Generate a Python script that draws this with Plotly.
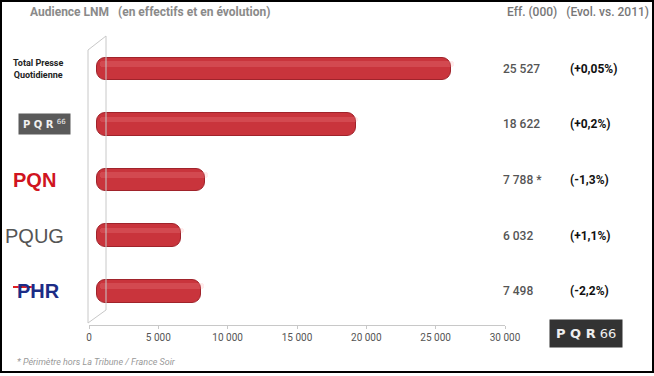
import plotly.graph_objects as go

categories = ["Total Presse Quotidienne", "PQR 66", "PQN", "PQUG", "PHR"]
effectifs = [25527, 18622, 7788, 6032, 7498]
value_labels = ["25 527", "18 622", "7 788 *", "6 032", "7 498"]
evol_labels = ["(+0,05%)", "(+0,2%)", "(-1,3%)", "(+1,1%)", "(-2,2%)"]
tick_vals = [0, 5000, 10000, 15000, 20000, 25000, 30000]
tick_text = ["0", "5 000", "10 000", "15 000", "20 000", "25 000", "30 000"]

NARROW = "Roboto, Liberation Sans, sans-serif"

# plot area in pixels
L, R, T, B = 89, 505, 45, 325
W, H = R - L, B - T
def px(x): return (x - L) / W
def py(y): return (B - y) / H

fig = go.Figure()
base_off = 600
fig.add_trace(go.Bar(
    y=categories, x=effectifs, base=base_off, orientation="h", width=0.41,
    marker=dict(color="#c9343c", line=dict(color="#a0232b", width=1), cornerradius=9),
    hoverinfo="skip", showlegend=False))
fig.add_trace(go.Bar(
    y=categories, x=effectifs, base=base_off + 200, orientation="h", width=0.1, offset=-0.14,
    marker=dict(color="rgba(255,160,160,0.2)", line=dict(width=0), cornerradius=3),
    hoverinfo="skip", showlegend=False))

annotations = []
for c, v, e in zip(categories, value_labels, evol_labels):
    annotations.append(dict(x=px(501), y=c, xref="paper", yref="y", text=v, showarrow=False,
                            xanchor="left", yanchor="middle", font=dict(family=NARROW, size=12, weight=500, color="#555555")))
    annotations.append(dict(x=px(568), y=c, xref="paper", yref="y", text="<b>" + e + "</b>", showarrow=False,
                            xanchor="left", yanchor="middle", font=dict(family=NARROW, size=12, color="#111111")))

# category logos (as text)
annotations += [
    dict(x=px(38), y=categories[0], xref="paper", yref="y", xanchor="center", yanchor="middle", text="<b>Total Presse<br>Quotidienne</b>",
         showarrow=False, font=dict(family=NARROW, size=9, color="#222222")),
    dict(x=px(44), y=categories[1], xref="paper", yref="y", xanchor="center", yanchor="middle", text="<b>P Q R</b> <sup>66</sup>",
         showarrow=False, bgcolor="#5a5a5a", borderpad=4, font=dict(family="DejaVu Sans", size=10, color="#f0f0f0")),
    dict(x=px(35), y=categories[2], xref="paper", yref="y", xanchor="center", yanchor="middle", text="<b>PQN</b>",
         showarrow=False, font=dict(family="Liberation Sans", size=20, color="#d01420")),
    dict(x=px(35), y=categories[3], xref="paper", yref="y", xanchor="center", yanchor="middle", text="PQUG",
         showarrow=False, font=dict(family="Liberation Sans", size=20, color="#555555")),
    dict(x=px(38), y=categories[4], xref="paper", yref="y", xanchor="center", yanchor="middle", text="<b>PHR</b>",
         showarrow=False, font=dict(family="Liberation Sans", size=20, color="#1c2c86")),
    dict(x=px(586), y=py(333), xref="paper", yref="paper", xanchor="center", yanchor="middle", text="<b>P Q R</b> 66",
         showarrow=False, bgcolor="#333333", borderpad=6, font=dict(family="DejaVu Sans", size=13, color="#eeeeee")),
    dict(x=px(28), y=py(12), xref="paper", yref="paper", xanchor="left", yanchor="middle", text="<b>Audience LNM   (en effectifs et en évolution)</b>",
         showarrow=False, font=dict(family=NARROW, size=12, color="#8a8a8a")),
    dict(x=px(651), y=py(12), xref="paper", yref="paper", xanchor="right", yanchor="middle", text="Eff. (000)   (Evol. vs. 2011)",
         showarrow=False, font=dict(family=NARROW, size=12, weight=500, color="#777777")),
    dict(x=px(15), y=py(362), xref="paper", yref="paper", xanchor="left", yanchor="middle", text="<i>* Périmètre hors La Tribune / France Soir</i>",
         showarrow=False, font=dict(family=NARROW, size=9, color="#999999")),
]

line_c = "#c8c8c8"
shapes = [
    # 3D back wall
    dict(type="line", xref="paper", yref="paper", x0=px(88), y0=py(323), x1=px(88), y1=py(50), line=dict(color=line_c, width=1)),
    dict(type="line", xref="paper", yref="paper", x0=px(88), y0=py(50), x1=px(106), y1=py(36), line=dict(color=line_c, width=1)),
    dict(type="line", xref="paper", yref="paper", x0=px(106), y0=py(36), x1=px(106), y1=py(310), line=dict(color=line_c, width=1)),
    dict(type="line", xref="paper", yref="paper", x0=px(88), y0=py(323), x1=px(106), y1=py(310), line=dict(color=line_c, width=1)),
    # PHR red stroke
    dict(type="line", xref="paper", yref="paper", x0=px(13), y0=py(287), x1=px(34), y1=py(287), line=dict(color="#e02020", width=2)),
    # frame
    dict(type="rect", xref="paper", yref="paper", x0=px(1), y0=py(1), x1=px(653), y1=py(372), line=dict(color="#000000", width=2)),
]

fig.update_layout(
    width=654, height=376,
    margin=dict(l=L, r=654 - R, t=T, b=376 - B),
    paper_bgcolor="white", plot_bgcolor="white",
    barmode="overlay", bargap=0,
    annotations=annotations, shapes=shapes,
    xaxis=dict(range=[0, 30000], tickvals=tick_vals, ticktext=tick_text, showgrid=False, zeroline=False,
               showline=True, linecolor="#c8c8c8", linewidth=1, ticks="outside", ticklen=3, tickcolor="#c8c8c8",
               tickfont=dict(family=NARROW, size=10, color="#555555"), fixedrange=True),
    yaxis=dict(categoryorder="array", categoryarray=categories, range=[4.61, -0.43],
               showticklabels=False, showgrid=False, zeroline=False, showline=False, fixedrange=True),
)

fig.write_html("out.html", config={"displayModeBar": False},
               post_script="document.body.style.margin='0';document.body.style.overflow='hidden';")
